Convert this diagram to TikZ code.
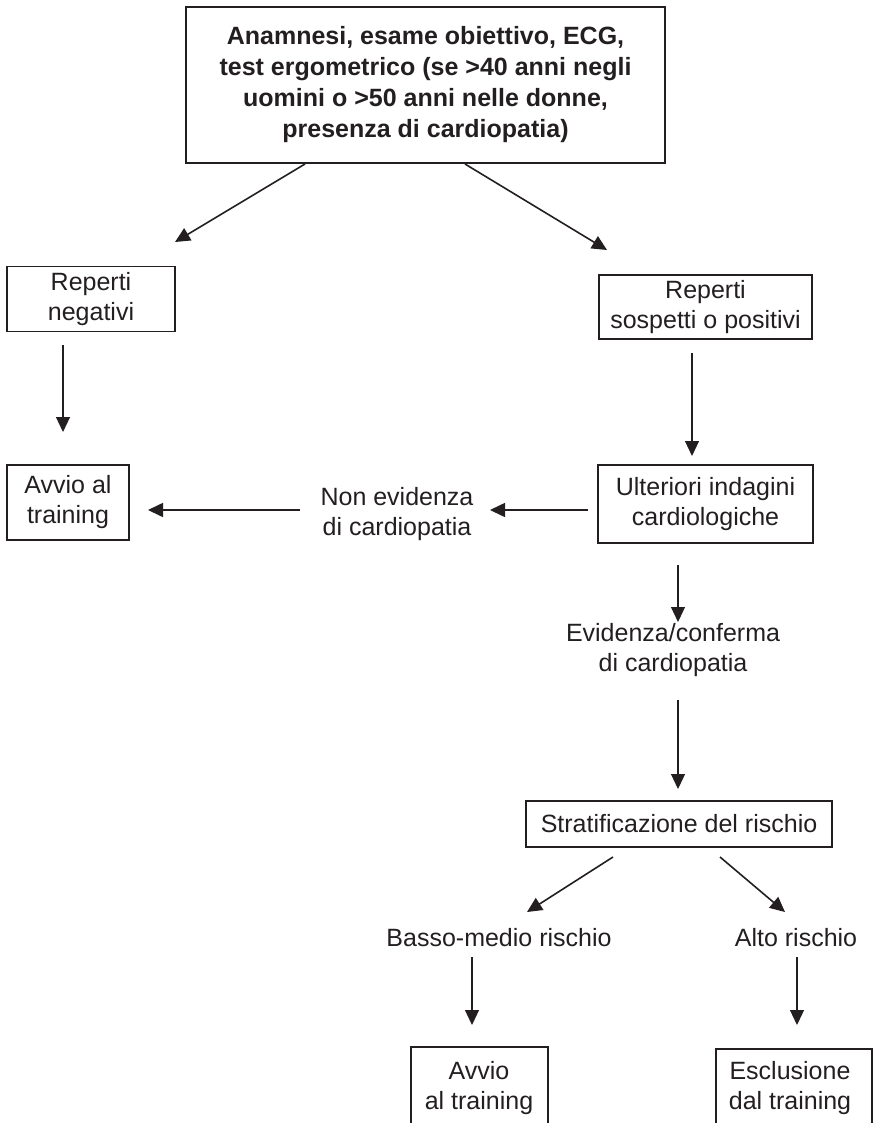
\documentclass[tikz,border=0pt]{standalone}
\usepackage{fontspec}
\setmainfont{Liberation Sans}
\usetikzlibrary{arrows.meta}
\definecolor{ink}{RGB}{35,31,32}
\begin{document}
\begin{tikzpicture}[x=1pt,y=-1pt,
  box/.style={draw=ink, line width=1.6pt, inner sep=0pt, align=center, text=ink,
    font=\fontsize{25}{30}\selectfont},
  lbl/.style={inner sep=0pt, align=center, text=ink, font=\fontsize{25}{30}\selectfont},
  arr/.style={draw=ink, line width=1.2pt, -{Triangle[length=15pt,width=14pt]}},
  thickarr/.style={arr, line width=1.6pt},
  openbox/.style={draw=ink, line width=1.6pt}
]
\useasboundingbox (0,0) rectangle (891,1123);
\clip (0,0) rectangle (891,1123);

% boxes
\node[box, line width=2pt, minimum width=479, minimum height=156,
  font=\bfseries\fontsize{25}{31}\selectfont] (top) at (425.5,85)
  {Anamnesi, esame obiettivo, ECG,\\test ergometrico (se >40 anni negli\\uomini o >50 anni nelle donne,\\presenza di cardiopatia)};
\node[box, minimum width=168, minimum height=65] (neg) at (91,299) {Reperti\\negativi};
\node[box, minimum width=213, minimum height=64] (sos) at (705.5,307) {Reperti\\sospetti o positivi};
\node[box, minimum width=122, minimum height=75] (avv1) at (68,502.5) {Avvio al\\training};
\node[box, minimum width=215, minimum height=78] (ult) at (705.5,504) {Ulteriori indagini\\cardiologiche};
\node[lbl] (non) at (397,514) {Non evidenza\\di cardiopatia};
\node[lbl] (evi) at (673,650) {Evidenza/conferma\\di cardiopatia};
\node[box, minimum width=306, minimum height=46] (str) at (679,824) {Stratificazione del rischio};
\node[lbl] (bas) at (499,938) {Basso-medio rischio};
\node[lbl] (alt) at (796,938) {Alto rischio};
\node[lbl] (avv2) at (479,1088.5) {Avvio\\al training};
\node[lbl] (esc) at (790,1088.5) {Esclusione\\dal training};
\draw[openbox] (411,1140) |- (548,1047) -- (548,1140);
\draw[openbox] (716,1140) |- (872,1049) -- (872,1140);

% connector end points
\coordinate (t1) at (305,164);
\coordinate (t1e) at (175,242);
\coordinate (t2) at (465,164);
\coordinate (t2e) at (607,250);
\coordinate (n1) at (63,345);
\coordinate (n1e) at (63,432);
\coordinate (s1) at (692,353);
\coordinate (s1e) at (692,456);
\coordinate (u1) at (588,510);
\coordinate (u1e) at (490,510);
\coordinate (v1) at (300,510);
\coordinate (v1e) at (148,510);
\coordinate (u2) at (678,565);
\coordinate (u2e) at (678,622);
\coordinate (e1) at (678,700);
\coordinate (e1e) at (678,789);
\coordinate (r1) at (613,857);
\coordinate (r1e) at (527,912);
\coordinate (r2) at (720,857);
\coordinate (r2e) at (785,912);
\coordinate (b1) at (472,957);
\coordinate (b1e) at (472,1025);
\coordinate (h1) at (797,957);
\coordinate (h1e) at (797,1025);

\draw[thickarr] (t1) -- (t1e);
\draw[thickarr] (t2) -- (t2e);
\draw[arr] (n1) -- (n1e);
\draw[arr] (s1) -- (s1e);
\draw[thickarr] (u1) -- (u1e);
\draw[thickarr] (v1) -- (v1e);
\draw[arr] (u2) -- (u2e);
\draw[arr] (e1) -- (e1e);
\draw[thickarr] (r1) -- (r1e);
\draw[thickarr] (r2) -- (r2e);
\draw[arr] (b1) -- (b1e);
\draw[arr] (h1) -- (h1e);
\end{tikzpicture}
\end{document}
